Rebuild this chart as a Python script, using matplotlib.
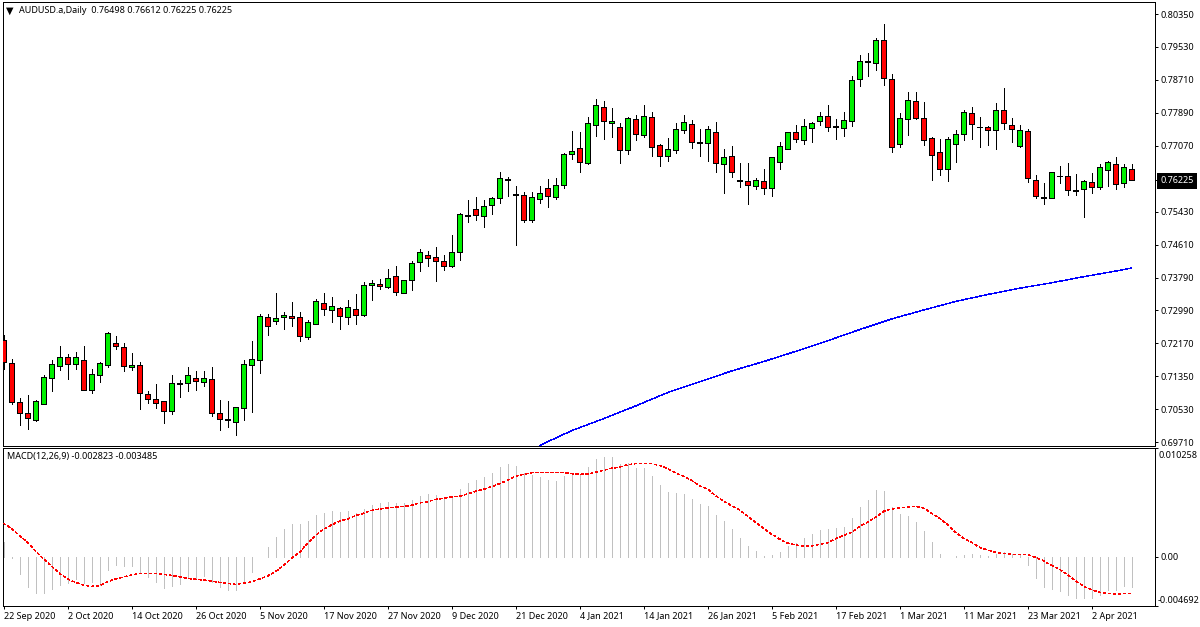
import matplotlib
matplotlib.use("Agg")
import numpy as np
import matplotlib.pyplot as plt

plt.rcParams["font.family"] = ["Noto Sans", "DejaVu Sans"]
plt.rcParams["lines.scale_dashes"] = False

# AUDUSD daily candles
opens = [
    0.72236, 0.71681, 0.70695, 0.70422, 0.70248, 0.70662, 0.71292, 0.71590, 0.71814, 0.71640,
    0.71739, 0.70993, 0.71366, 0.71615, 0.72162, 0.72062, 0.71582, 0.71615, 0.70894, 0.70770,
    0.70720, 0.70471, 0.71143, 0.71167, 0.71292, 0.71192, 0.71267, 0.70422, 0.70264, 0.70198,
    0.70546, 0.71615, 0.71739, 0.72808, 0.72709, 0.72808, 0.72833, 0.72808, 0.72311, 0.72635,
    0.73157, 0.72983, 0.73032, 0.72808, 0.73007, 0.72858, 0.73604, 0.73629, 0.73554, 0.73828,
    0.73405, 0.73728, 0.74176, 0.74350, 0.74300, 0.74201, 0.74076, 0.74425, 0.75336, 0.75494,
    0.75320, 0.75593, 0.75767, 0.76231, 0.75842, 0.75842, 0.75220, 0.75742, 0.76016, 0.75792,
    0.76090, 0.76861, 0.77010, 0.76637, 0.77582, 0.78029, 0.77648, 0.77532, 0.76960, 0.77731,
    0.77333, 0.77781, 0.77085, 0.76811, 0.76960, 0.77458, 0.77607, 0.77134, 0.77134, 0.77408,
    0.76612, 0.76811, 0.76190, 0.76190, 0.76065, 0.76190, 0.76016, 0.76662, 0.76985, 0.77408,
    0.77209, 0.77507, 0.77681, 0.77806, 0.77532, 0.77507, 0.77681, 0.78725, 0.79148, 0.79123,
    0.79695, 0.78725, 0.77109, 0.77731, 0.78178, 0.77756, 0.77259, 0.76910, 0.76488, 0.77109,
    0.77358, 0.77880, 0.77532, 0.77549, 0.77457, 0.77955, 0.77582, 0.77060, 0.77433, 0.76214,
    0.75783, 0.75767, 0.76314, 0.76314, 0.75941, 0.75991, 0.76165, 0.76040, 0.76463, 0.76612,
    0.76140, 0.76498,
]
highs = [
    0.72369, 0.71764, 0.70795, 0.70869, 0.70745, 0.71366, 0.71748, 0.72096, 0.71888, 0.71938,
    0.72096, 0.71515, 0.71690, 0.72435, 0.72344, 0.72162, 0.71913, 0.71690, 0.70969, 0.71151,
    0.70720, 0.71366, 0.71242, 0.71565, 0.71466, 0.71466, 0.71565, 0.70745, 0.70720, 0.70571,
    0.71739, 0.72212, 0.72883, 0.72883, 0.73405, 0.72933, 0.73181, 0.72933, 0.72734, 0.73256,
    0.73405, 0.73306, 0.73057, 0.73231, 0.73380, 0.73679, 0.73728, 0.73753, 0.74002, 0.74076,
    0.73728, 0.74201, 0.74499, 0.74449, 0.74549, 0.74350, 0.74847, 0.75394, 0.75717, 0.75792,
    0.75717, 0.75792, 0.76413, 0.76289, 0.76065, 0.75916, 0.75916, 0.76065, 0.76239, 0.76264,
    0.76894, 0.77433, 0.77408, 0.77781, 0.78228, 0.78179, 0.78005, 0.77632, 0.77781, 0.77831,
    0.78079, 0.77905, 0.77110, 0.77259, 0.77632, 0.77831, 0.77706, 0.77483, 0.77557, 0.77657,
    0.76985, 0.77060, 0.76637, 0.76637, 0.76264, 0.76488, 0.76786, 0.77159, 0.77408, 0.77582,
    0.77731, 0.77657, 0.77905, 0.78079, 0.77731, 0.77905, 0.78808, 0.79322, 0.79372, 0.79745,
    0.80101, 0.78850, 0.77880, 0.78402, 0.78402, 0.78154, 0.77283, 0.77234, 0.77283, 0.77457,
    0.77955, 0.78029, 0.77781, 0.77573, 0.78129, 0.78502, 0.77756, 0.77582, 0.77482, 0.76339,
    0.76140, 0.76413, 0.76562, 0.76637, 0.76364, 0.76214, 0.76388, 0.76612, 0.76687, 0.76786,
    0.76612, 0.76612,
]
lows = [
    0.71532, 0.70662, 0.70140, 0.70040, 0.70239, 0.70662, 0.70985, 0.71507, 0.71283, 0.71532,
    0.70993, 0.70935, 0.71209, 0.71582, 0.72029, 0.71482, 0.71507, 0.70538, 0.70687, 0.70562,
    0.70190, 0.70413, 0.70836, 0.70985, 0.71010, 0.71109, 0.70364, 0.70016, 0.70090, 0.69891,
    0.70264, 0.70463, 0.71433, 0.72377, 0.72651, 0.72526, 0.72601, 0.72228, 0.72262, 0.72635,
    0.72875, 0.72701, 0.72527, 0.72651, 0.72651, 0.72833, 0.73248, 0.73521, 0.73530, 0.73372,
    0.73405, 0.73496, 0.73969, 0.74093, 0.73720, 0.73994, 0.74052, 0.74242, 0.75187, 0.75237,
    0.75063, 0.75386, 0.75659, 0.75833, 0.74615, 0.75170, 0.75170, 0.75659, 0.75560, 0.75759,
    0.76016, 0.76753, 0.76430, 0.76612, 0.77325, 0.77250, 0.77300, 0.76654, 0.76878, 0.77226,
    0.77300, 0.76828, 0.76579, 0.76704, 0.76902, 0.77400, 0.77027, 0.76828, 0.76704, 0.76430,
    0.75908, 0.76306, 0.76057, 0.75635, 0.76007, 0.75883, 0.75833, 0.76505, 0.76985, 0.77176,
    0.77126, 0.77176, 0.77599, 0.77449, 0.77250, 0.77325, 0.77573, 0.78568, 0.78808, 0.78957,
    0.78593, 0.76927, 0.77051, 0.77350, 0.77731, 0.77093, 0.76231, 0.76355, 0.76206, 0.76678,
    0.77225, 0.77250, 0.77051, 0.77101, 0.77002, 0.77499, 0.77176, 0.77035, 0.76181, 0.75783,
    0.75634, 0.75767, 0.76156, 0.75858, 0.75858, 0.75311, 0.75908, 0.75991, 0.76065, 0.76007,
    0.76040, 0.76225,
]
closes = [
    0.71690, 0.70712, 0.70438, 0.70297, 0.70720, 0.71317, 0.71640, 0.71814, 0.71640, 0.71814,
    0.70993, 0.71391, 0.71665, 0.72410, 0.72087, 0.71590, 0.71615, 0.70919, 0.70770, 0.70670,
    0.70471, 0.71167, 0.71167, 0.71366, 0.71217, 0.71292, 0.70422, 0.70272, 0.70272, 0.70571,
    0.71640, 0.71764, 0.72833, 0.72585, 0.72783, 0.72858, 0.72783, 0.72336, 0.72684, 0.73206,
    0.73007, 0.73082, 0.72833, 0.73057, 0.72858, 0.73604, 0.73654, 0.73579, 0.73778, 0.73430,
    0.73728, 0.74151, 0.74425, 0.74275, 0.74201, 0.74076, 0.74425, 0.75369, 0.75344, 0.75344,
    0.75568, 0.75767, 0.76264, 0.76239, 0.75866, 0.75220, 0.75792, 0.75891, 0.75817, 0.76090,
    0.76861, 0.76936, 0.76662, 0.77632, 0.78079, 0.77681, 0.77681, 0.76960, 0.77756, 0.77358,
    0.77806, 0.77035, 0.76811, 0.76985, 0.77483, 0.77657, 0.77159, 0.77159, 0.77483, 0.76637,
    0.76786, 0.76414, 0.76215, 0.76090, 0.76215, 0.76016, 0.76786, 0.77060, 0.77408, 0.77234,
    0.77557, 0.77632, 0.77806, 0.77532, 0.77557, 0.77706, 0.78700, 0.79173, 0.79173, 0.79695,
    0.78750, 0.77035, 0.77756, 0.78203, 0.77756, 0.77209, 0.76836, 0.76488, 0.77234, 0.77358,
    0.77905, 0.77607, 0.77549, 0.77457, 0.77955, 0.77631, 0.77482, 0.77457, 0.76264, 0.75817,
    0.75792, 0.76413, 0.76322, 0.75966, 0.75966, 0.76190, 0.76040, 0.76538, 0.76662, 0.76115,
    0.76538, 0.76225,
]

# moving average, sampled every few bars
ma_bars = [67, 71, 75, 79, 83, 87, 91, 95, 99, 103, 107, 111, 115, 119, 123, 127, 131, 135, 139, 141]
ma_values = [
    0.69623, 0.69991, 0.70289, 0.70605, 0.70938, 0.71204, 0.71475, 0.71709, 0.71962, 0.72226,
    0.72504, 0.72768, 0.72991, 0.73203, 0.73377, 0.73533, 0.73668, 0.73819, 0.73959, 0.74036,
]

macd_hist = [
    0.00142, -0.00009, -0.00164, -0.00284, -0.00341, -0.00341, -0.00306, -0.00268, -0.00246, -0.00211,
    -0.00252, -0.00237, -0.00268, -0.00126, -0.00079, -0.00085, -0.00085, -0.00142, -0.00189, -0.00237,
    -0.00293, -0.00274, -0.00255, -0.00205, -0.00205, -0.00180, -0.00237, -0.00284, -0.00312, -0.00312,
    -0.00230, -0.00142, 0.00000, 0.00095, 0.00186, 0.00262, 0.00309, 0.00309, 0.00337, 0.00394,
    0.00413, 0.00432, 0.00423, 0.00432, 0.00413, 0.00451, 0.00489, 0.00508, 0.00517, 0.00508,
    0.00508, 0.00536, 0.00574, 0.00593, 0.00583, 0.00565, 0.00574, 0.00640, 0.00697, 0.00725,
    0.00754, 0.00792, 0.00848, 0.00877, 0.00858, 0.00792, 0.00773, 0.00754, 0.00725, 0.00716,
    0.00763, 0.00792, 0.00782, 0.00848, 0.00924, 0.00943, 0.00943, 0.00877, 0.00886, 0.00839,
    0.00839, 0.00763, 0.00678, 0.00612, 0.00602, 0.00593, 0.00546, 0.00498, 0.00479, 0.00394,
    0.00337, 0.00262, 0.00177, 0.00101, 0.00054, 0.00002, 0.00016, 0.00044, 0.00101, 0.00129,
    0.00177, 0.00214, 0.00252, 0.00262, 0.00271, 0.00281, 0.00366, 0.00470, 0.00536, 0.00631,
    0.00621, 0.00470, 0.00404, 0.00385, 0.00328, 0.00243, 0.00139, 0.00025, 0.00000, 0.00006,
    0.00016, 0.00025, 0.00013, 0.00006, 0.00028, 0.00044, 0.00022, 0.00016, -0.00079, -0.00202,
    -0.00287, -0.00306, -0.00325, -0.00363, -0.00391, -0.00391, -0.00391, -0.00363, -0.00315, -0.00315,
    -0.00278, -0.002823,
]
macd_signal = [
    0.00315, 0.00268, 0.00199, 0.00136, 0.00054, -0.00022, -0.00088, -0.00158, -0.00211, -0.00243,
    -0.00268, -0.00281, -0.00274, -0.00237, -0.00211, -0.00192, -0.00173, -0.00158, -0.00158, -0.00158,
    -0.00167, -0.00177, -0.00189, -0.00205, -0.00214, -0.00221, -0.00230, -0.00243, -0.00252, -0.00262,
    -0.00249, -0.00240, -0.00211, -0.00183, -0.00142, -0.00082, -0.00016, 0.00041, 0.00126, 0.00199,
    0.00259, 0.00300, 0.00337, 0.00356, 0.00388, 0.00410, 0.00438, 0.00451, 0.00460, 0.00470,
    0.00476, 0.00486, 0.00508, 0.00520, 0.00542, 0.00552, 0.00565, 0.00571, 0.00593, 0.00618,
    0.00637, 0.00662, 0.00691, 0.00722, 0.00760, 0.00779, 0.00795, 0.00795, 0.00795, 0.00795,
    0.00798, 0.00785, 0.00779, 0.00782, 0.00798, 0.00817, 0.00836, 0.00848, 0.00870, 0.00880,
    0.00883, 0.00880, 0.00864, 0.00833, 0.00792, 0.00760, 0.00722, 0.00672, 0.00640, 0.00577,
    0.00527, 0.00483, 0.00442, 0.00385, 0.00325, 0.00268, 0.00214, 0.00167, 0.00129, 0.00110,
    0.00101, 0.00101, 0.00117, 0.00132, 0.00170, 0.00202, 0.00230, 0.00287, 0.00325, 0.00372,
    0.00429, 0.00451, 0.00460, 0.00470, 0.00476, 0.00460, 0.00413, 0.00363, 0.00306, 0.00230,
    0.00173, 0.00136, 0.00088, 0.00063, 0.00041, 0.00032, 0.00022, 0.00022, 0.00022, -0.00006,
    -0.00038, -0.00082, -0.00120, -0.00170, -0.00227, -0.00281, -0.00312, -0.00337, -0.00347, -0.00356,
    -0.00347, -0.003485,
]

price_ticks = [0.80350, 0.79530, 0.78710, 0.77890, 0.77070, 0.76225, 0.75430, 0.74610, 0.73790,
               0.72990, 0.72170, 0.71350, 0.70530, 0.69710]
macd_ticks = [0.01033, 0.0, -0.00462]
macd_tick_labels = ["", "0.00", ""]
date_labels = ["22 Sep 2020", "2 Oct 2020", "14 Oct 2020", "26 Oct 2020", "5 Nov 2020", "17 Nov 2020",
               "27 Nov 2020", "9 Dec 2020", "21 Dec 2020", "4 Jan 2021", "14 Jan 2021", "26 Jan 2021",
               "5 Feb 2021", "17 Feb 2021", "1 Mar 2021", "11 Mar 2021", "23 Mar 2021", "2 Apr 2021"]

W, H = 1200, 627
PX = 0.72  # one pixel in points at dpi 100
FONT = 6.5


def pane(top, bottom):
    return [2.5 / W, (H - bottom) / H, 1152 / W, (bottom - top) / H]


fig = plt.figure(figsize=(W / 100, H / 100), dpi=100)
ax = fig.add_axes(pane(1.5, 445.5))
ax2 = fig.add_axes(pane(447.5, 605.5), sharex=ax)

x = np.arange(len(closes))
o = np.array(opens)
c = np.array(closes)
up = c >= o

ax.vlines(x, lows, highs, color="black", lw=PX, antialiased=False, zorder=2)
ax.bar(x, np.abs(c - o), bottom=np.minimum(o, c), width=0.55,
       color=np.where(up, "#00F000", "#FF0000"), edgecolor="black", linewidth=0.6,
       antialiased=False, zorder=3)
# aliased lines get rounded to whole pixels, so these stay very thin on purpose
ax.plot(ma_bars, ma_values, color="#0000FF", lw=0.3, antialiased=False, zorder=4)

ax.set_xlim(-0.125, 143.875)
ax.set_ylim(0.69623, 0.80661)
ax.set_yticks(price_ticks)
ax.set_yticklabels([f"{p:.5f}" for p in price_ticks])
ax.yaxis.tick_right()
ax.tick_params(axis="y", length=2.2, width=PX, pad=1.8, labelsize=FONT)
ax.tick_params(axis="x", length=0, labelbottom=False)

# current price gets the black box
cur = ax.get_yticklabels()[price_ticks.index(0.76225)]
cur.set_color("white")
cur.set_bbox(dict(facecolor="black", edgecolor="none", pad=2.2))

ax.text(5.5 / W, 1 - 10.5 / H, "\u25bc", transform=fig.transFigure, family="DejaVu Sans",
        fontsize=7, va="center", ha="left")
ax.text(19 / W, 1 - 10.5 / H, "AUDUSD.a,Daily  0.76498 0.76612 0.76225 0.76225",
        transform=fig.transFigure, fontsize=FONT, va="center", ha="left")

ax2.vlines(x, 0, macd_hist, color="#C0C0C0", lw=PX, antialiased=False, zorder=2)
ax2.plot(x, macd_signal, color="#FF0000", lw=0.3, linestyle=(0, (1.6, 2.0)), antialiased=False, zorder=3)
ax2.set_ylim(-0.00462, 0.01033)
ax2.set_yticks(macd_ticks)
ax2.set_yticklabels(macd_tick_labels)
ax2.yaxis.tick_right()
ax2.tick_params(axis="y", length=2.2, width=PX, pad=1.8, labelsize=FONT)

# the two end labels sit inside the pane, not on their ticks
ax2.text(1 + 4 / 1152, 0.00962, "0.010258", transform=ax2.get_yaxis_transform(),
         fontsize=FONT, va="center", ha="left")
ax2.text(1 + 3 / 1152, -0.00411, "-0.004692", transform=ax2.get_yaxis_transform(),
         fontsize=FONT, va="center", ha="left")

ax2.set_xticks(x[::8][:len(date_labels)])
ax2.set_xticklabels(date_labels, ha="left")
ax2.tick_params(axis="x", length=2.2, width=PX, pad=2.2, labelsize=FONT)

ax2.text(7 / W, 1 - 456.5 / H, "MACD(12,26,9) -0.002823 -0.003485", transform=fig.transFigure,
         fontsize=FONT, va="center", ha="left")

for a in (ax, ax2):
    for s in a.spines.values():
        s.set_linewidth(PX)
        s.set_color("black")

fig.savefig("out.png", dpi=100, facecolor="white")
